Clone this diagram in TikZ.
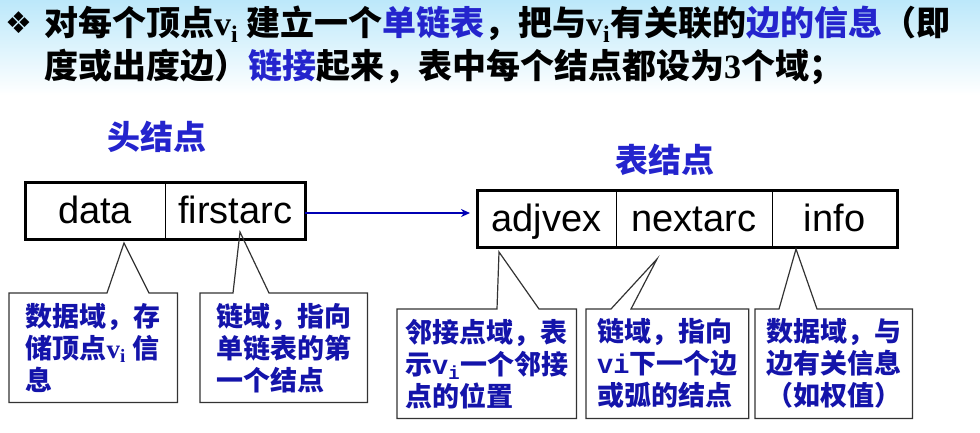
\documentclass[tikz,border=0pt]{standalone}
\usepackage{fontspec}
\setmainfont{Liberation Serif}
\newfontfamily\cjk{Noto Sans CJK SC}
\newfontfamily\arial{Liberation Sans}
\newfontfamily\mono{Liberation Mono}
\newfontfamily\symfont{DejaVu Sans}
\usepackage{xcolor}
\usepackage{tikz}
\usetikzlibrary{arrows.meta,positioning}

\definecolor{skyband}{RGB}{188,232,250}
\definecolor{wordblue}{RGB}{36,36,205}
\definecolor{noteblue}{RGB}{20,20,170}
\definecolor{linkblue}{RGB}{0,0,180}
\newcommand{\vsub}{{\rmfamily\bfseries v\textsubscript{i}}}
\newcommand{\vmono}{{\mono\bfseries v\textsubscript{i}}}

\tikzset{
  field/.style={draw, line width=1pt, outer sep=0pt, inner sep=0pt, minimum height=57pt,
    text height=30pt, text depth=5pt, font=\arial\fontsize{38}{40}\selectfont},
  frame/.style={line width=3pt},
  hdr/.style={text=wordblue, font=\cjk\bfseries\fontsize{33}{36}\selectfont},
  note/.style={anchor=north west, align=left, inner xsep=11pt, inner ysep=0pt,
    minimum height=109pt, text=noteblue, font=\cjk\bfseries\fontsize{27}{32}\selectfont},
  noteline/.style={draw=black!80, line width=1.2pt},
  title/.style={anchor=base west, inner sep=0pt, font=\cjk\bfseries\fontsize{34}{40}\selectfont}
}

\begin{document}
\begin{tikzpicture}[x=1pt,y=-1pt]
\useasboundingbox (0,0) rectangle (980,432);
\shade[top color=skyband, bottom color=white] (0,0) rectangle (980,95);

% title
\node[font=\symfont\fontsize{30}{30}\selectfont] (bullet) at (19,23) {❖};
\node[title] (line1) at (44,35) {对每个顶点\vsub\ 建立一个\textcolor{wordblue}{单链表}，把与\vsub 有关联的\textcolor{wordblue}{边的信息}（即};
\node[title] (line2) at (44,78) {度或出度边）\textcolor{wordblue}{链接}起来，表中每个结点都设为{\rmfamily\bfseries 3}个域；};

% head node
\node[hdr] (headlbl) at (157,137) {头结点};
\node[field, minimum width=140pt, anchor=north west] (data) at (25,182) {data};
\node[field, minimum width=140pt, right=0pt of data] (firstarc) {firstarc};
\draw[frame] (data.north west) rectangle (firstarc.south east);

% table node
\node[hdr] (tablbl) at (665,160) {表结点};
\node[field, minimum width=139pt, anchor=north west] (adjvex) at (477,190) {adjvex};
\node[field, minimum width=156pt, right=0pt of adjvex] (nextarc) {nextarc};
\node[field, minimum width=125pt, right=0pt of nextarc] (info) {info};
\draw[frame] (adjvex.north west) rectangle (info.south east);

\draw[linkblue, line width=1.8pt, -{Stealth[length=9pt,width=8pt]}]
  ([yshift=-2.5pt]firstarc.east) -- ([xshift=-7pt,yshift=-2.5pt]firstarc.east -| adjvex.west);

% callouts
\coordinate (tip1) at ([shift={(29,4)}]data.south);
\coordinate (tip2) at ([shift={(5,-7)}]firstarc.south);
\coordinate (tip3) at ([shift={(-47.5,5)}]adjvex.south);
\coordinate (tip4) at ([shift={(-37,12)}]nextarc.south);
\coordinate (tip5) at ([shift={(-38.5,2)}]info.south);

\node[note, minimum width=168pt] (note1) at (9,293) {数据域，存\\储顶点\vsub\ 信\\息};
\node[note, minimum width=167pt] (note2) at (200,293) {链域，指向\\单链表的第\\一个结点};
\node[note, minimum width=171pt, inner xsep=8pt] (note3) at (397,309) {邻接点域，表\\示\vmono 一个邻接\\点的位置};
\node[note, minimum width=149pt] (note4) at (586,309) {链域，指向\\{\mono\bfseries vi}下一个边\\或弧的结点};
\node[note, minimum width=149pt] (note5) at (755,309) {数据域，与\\边有关信息\\（如权值）};

\draw[noteline] (note1.north west) -- ++(98,0) -- (tip1) -- ([xshift=140pt]note1.north west)
  -- (note1.north east) |- (note1.south west) -- cycle;
\draw[noteline] (note2.north west) -- ++(33,0) -- (tip2) -- ([xshift=69pt]note2.north west)
  -- (note2.north east) |- (note2.south west) -- cycle;
\draw[noteline] (note3.north west) -- ++(100,0) -- (tip3) -- ([xshift=142pt]note3.north west)
  -- (note3.north east) |- (note3.south west) -- cycle;
\draw[noteline] (note4.north west) -- ++(25,0) -- (tip4) -- ([xshift=45pt]note4.north west)
  -- (note4.north east) |- (note4.south west) -- cycle;
\draw[noteline] (note5.north west) -- ++(24,0) -- (tip5) -- ([xshift=62pt]note5.north west)
  -- (note5.north east) |- (note5.south west) -- cycle;
\end{tikzpicture}
\end{document}
